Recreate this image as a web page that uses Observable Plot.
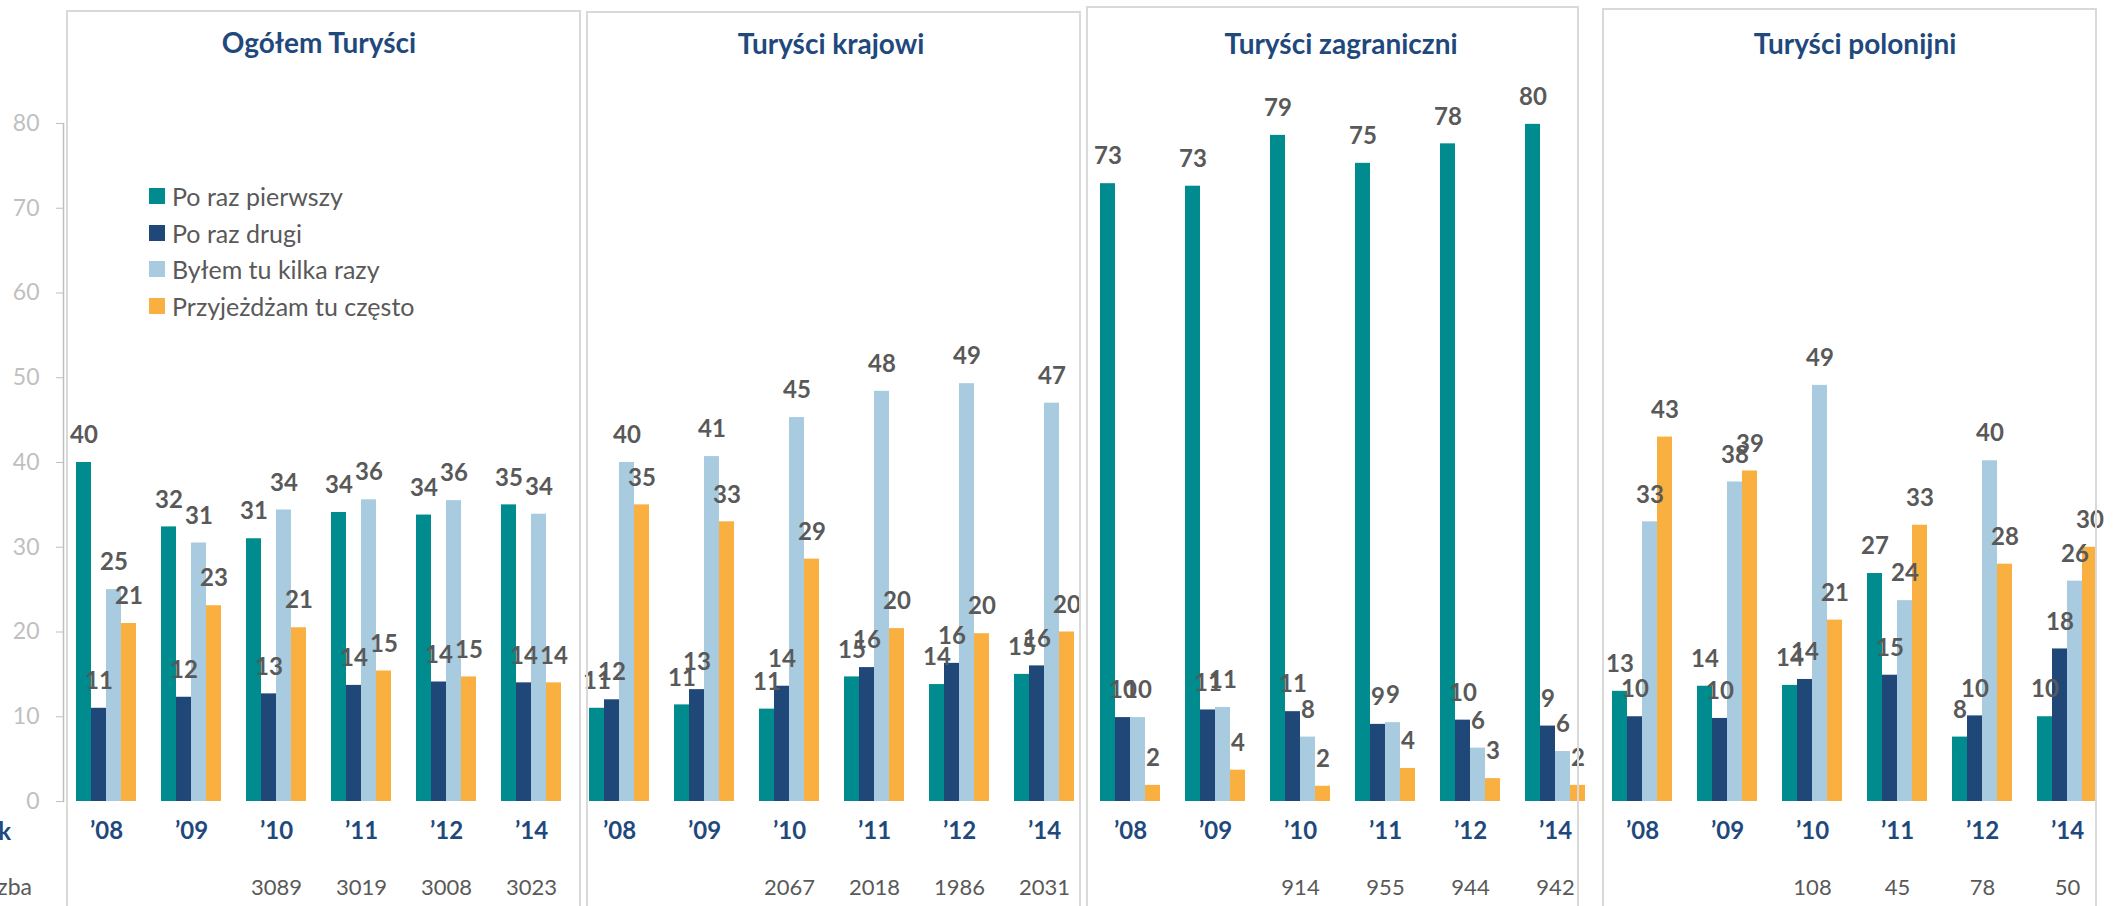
<!DOCTYPE html>
<html><head><meta charset="utf-8">
<script src="https://cdn.jsdelivr.net/npm/d3@7"></script>
<script src="https://cdn.jsdelivr.net/npm/@observablehq/plot@0.6"></script>
<style>
html,body{margin:0;padding:0;background:#fff;}
body{width:2125px;height:906px;overflow:hidden;position:relative;font-family:Lato,sans-serif;}
.svgbox{position:absolute;top:0;}
.frame{position:absolute;border:2px solid #d9d9d9;box-sizing:border-box;height:1000px;pointer-events:none;}
.title{position:absolute;transform:translate(-50%,-50%);font-weight:bold;font-size:28px;font-family:Lato,sans-serif;color:#1F497D;white-space:nowrap;}
.rowlab{position:absolute;text-align:right;white-space:nowrap;font-family:Lato,sans-serif;transform:translateY(-50%);}
#legend{position:absolute;left:149px;top:178px;}
.lg-swatches{font-family:Lato,sans-serif !important;font-size:25px !important;color:#595959 !important;margin:0 !important;}
.lg-swatch{padding-bottom:0 !important;height:36.5px !important;display:flex !important;align-items:center !important;}
.lg-swatch > svg{margin-right:7px !important;}
g[aria-label="fx-axis tick label"] text{font-weight:bold;}
</style></head><body>
<script>
// ---- data ----
const years = ["’08", "’09", "’10", "’11", "’12", "’14"];
const series = ["Po raz pierwszy", "Po raz drugi", "Byłem tu kilka razy", "Przyjeżdżam tu często"];
const colors = ["#008C8F", "#1F4778", "#A8CBDF", "#FAB041"];
const panelTitles = ["Ogółem Turyści", "Turyści krajowi", "Turyści zagraniczni", "Turyści polonijni"];
const yTicks = [0, 10, 20, 30, 40, 50, 60, 70, 80];

// rows: Po raz pierwszy, Po raz drugi, Byłem tu kilka razy, Przyjeżdżam tu często
const ogolemValues = [
  [40.0, 32.4, 31.0, 34.1, 33.8, 35.0],
  [11.0, 12.3, 12.7, 13.7, 14.1, 14.0],
  [25.0, 30.5, 34.4, 35.6, 35.5, 33.9],
  [21.0, 23.1, 20.5, 15.4, 14.7, 14.0]
];
const krajowiValues = [
  [11.0, 11.4, 10.9, 14.7, 13.8, 15.0],
  [12.0, 13.2, 13.6, 15.8, 16.3, 16.0],
  [40.0, 40.7, 45.3, 48.4, 49.3, 47.0],
  [35.0, 33.0, 28.6, 20.4, 19.8, 20.0]
];
const zagraniczniValues = [
  [72.9, 72.6, 78.6, 75.3, 77.6, 79.9],
  [9.9, 10.8, 10.6, 9.1, 9.6, 8.9],
  [9.9, 11.1, 7.6, 9.3, 6.3, 5.9],
  [1.9, 3.7, 1.8, 3.9, 2.7, 1.9]
];
const polonijniValues = [
  [13.0, 13.6, 13.7, 26.9, 7.6, 10.0],
  [10.0, 9.8, 14.4, 14.9, 10.1, 18.0],
  [33.0, 37.7, 49.1, 23.7, 40.2, 26.0],
  [43.0, 39.0, 21.4, 32.6, 28.0, 30.0]
];
const ogolemN = [null, null, 3089, 3019, 3008, 3023];
const krajowiN = [null, null, 2067, 2018, 1986, 2031];
const zagraniczniN = [null, null, 914, 955, 944, 942];
const polonijniN = [null, null, 108, 45, 78, 50];
const rowLabels = ["Rok", "Liczba"];

// ---- layout ----
const H = 906, MT = 123, MB = 105;
const boxes = [
  {left: 0, width: 581, ml: 63, mr: 6},
  {left: 575, width: 512, ml: 1, mr: 0},
  {left: 1081, width: 517, ml: 6, mr: 0},
  {left: 1585, width: 540, ml: 14, mr: 14}
];
const frames = [
  {left: 66, top: 10, right: 581, tx: 319, ty: 42},
  {left: 586, top: 11, right: 1081, tx: 831, ty: 43},
  {left: 1086, top: 6, right: 1579, tx: 1341, ty: 43},
  {left: 1602, top: 8, right: 2097, tx: 1855, ty: 43}
];
const allValues = [ogolemValues, krajowiValues, zagraniczniValues, polonijniValues];
const allN = [ogolemN, krajowiN, zagraniczniN, polonijniN];

function panelPlot(values, counts, box, withAxis) {
  const data = [];
  series.forEach((s, i) => years.forEach((y, j) => data.push({year: y, series: s, value: values[i][j]})));
  const nData = years.map((y, j) => ({year: y, n: counts[j]})).filter(d => d.n != null);
  const marks = [
    Plot.barY(data, {fx: "year", x: "series", y: "value", fill: "series"}),
    Plot.text(data, {fx: "year", x: "series", y: "value", text: d => String(Math.round(d.value)),
      dy: -27, fontSize: 24, fontWeight: "bold", fill: "#595959"}),
    Plot.axisFx({anchor: "bottom", tickSize: 0, tickPadding: 20, fontSize: 24, fontWeight: "bold",
      color: "#1F497D", label: null}),
    Plot.text(nData, {fx: "year", text: d => String(d.n), frameAnchor: "bottom", lineAnchor: "middle",
      dy: 86, fontSize: 22, fill: "#595959"})
  ];
  if (withAxis) {
    marks.push(Plot.axisY({ticks: yTicks, tickSize: 7, tickPadding: 17, fontSize: 23,
      color: "#BFBFBF", label: null, dx: -12}));
    marks.push(Plot.frame({anchor: "left", stroke: "#BFBFBF", strokeWidth: 1.5, dx: -12, facetAnchor: "left"}));
  }
  return Plot.plot({
    width: box.width, height: H,
    marginLeft: box.ml, marginRight: box.mr, marginTop: MT, marginBottom: MB,
    style: {fontFamily: "Lato, sans-serif", background: "white", overflow: "visible"},
    fx: {domain: years, paddingInner: 0.27, paddingOuter: 0.135, label: null},
    x: {domain: series, padding: 0, axis: null},
    y: {domain: [0, 80], axis: withAxis ? undefined : null},
    color: {domain: series, range: colors},
    marks
  });
}

allValues.forEach((vals, i) => {
  const div = document.createElement("div");
  div.className = "svgbox";
  div.style.left = boxes[i].left + "px";
  div.appendChild(panelPlot(vals, allN[i], boxes[i], i === 0));
  document.body.appendChild(div);
});

frames.forEach((f, i) => {
  const fr = document.createElement("div");
  fr.className = "frame";
  fr.style.left = f.left + "px";
  fr.style.top = f.top + "px";
  fr.style.width = (f.right - f.left) + "px";
  document.body.appendChild(fr);
  const t = document.createElement("div");
  t.className = "title";
  t.style.left = f.tx + "px";
  t.style.top = f.ty + "px";
  t.textContent = panelTitles[i];
  document.body.appendChild(t);
});

// row labels (cut off at the left edge as in the original)
const r1 = document.createElement("div");
r1.className = "rowlab";
r1.style.cssText = "left:-189px;width:200px;top:830px;font-size:24px;font-weight:bold;color:#1F497D;";
r1.textContent = rowLabels[0];
document.body.appendChild(r1);
const r2 = document.createElement("div");
r2.className = "rowlab";
r2.style.cssText = "left:-168px;width:200px;top:886px;font-size:23px;color:#595959;";
r2.textContent = rowLabels[1];
document.body.appendChild(r2);

// legend
const lg = document.createElement("div");
lg.id = "legend";
lg.appendChild(Plot.legend({color: {domain: series, range: colors}, legend: "swatches",
  columns: 1, swatchSize: 16, className: "lg"}));
document.body.appendChild(lg);
</script>
</body></html>
